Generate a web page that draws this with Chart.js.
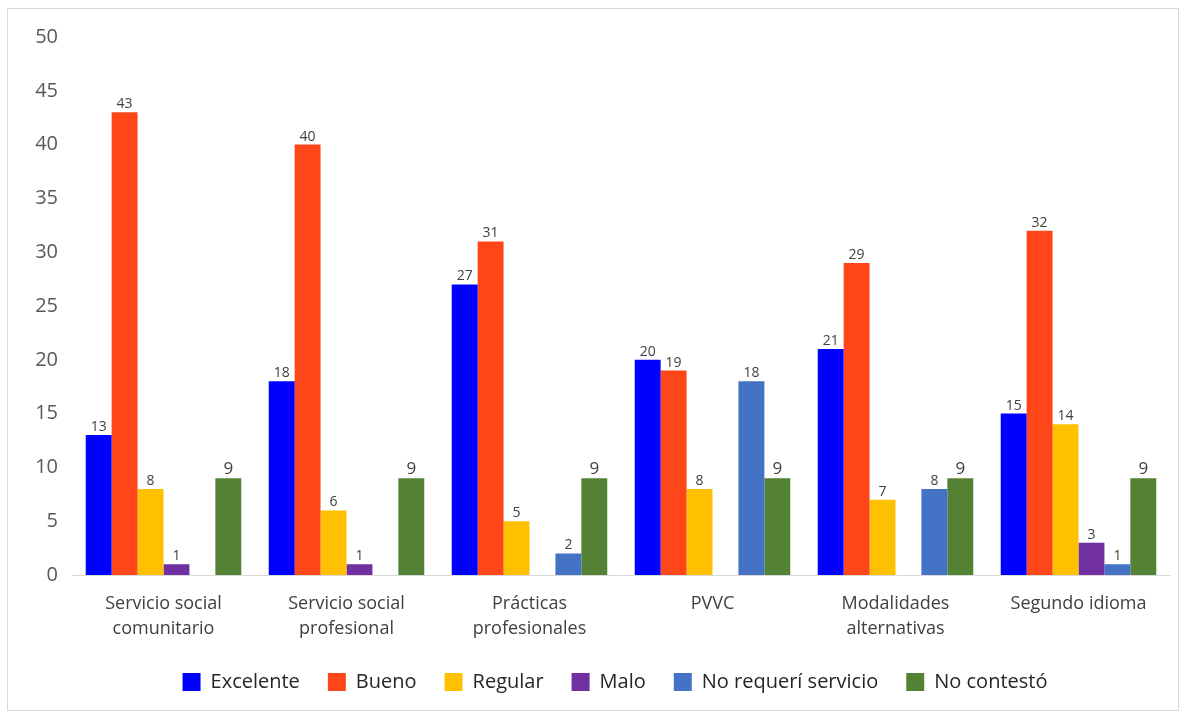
<!DOCTYPE html>
<html lang="es">
<head>
    <meta charset="UTF-8">
    <title>Evaluación de servicios</title>
    <script src="https://cdn.jsdelivr.net/npm/chart.js"></script>
    <style>
        body { margin: 0; background: #fff; }
        .frame {
            position: absolute; left: 7px; top: 8px;
            width: 1172px; height: 703px;
            border: 1px solid #d9d9d9; box-sizing: border-box;
        }
    </style>
</head>
<body>
    <div class="frame"><canvas id="chart"></canvas></div>

    <script>
        const categories = [
            ['Servicio social', 'comunitario'],
            ['Servicio social', 'profesional'],
            ['Prácticas', 'profesionales'],
            'PVVC',
            ['Modalidades', 'alternativas'],
            'Segundo idioma'
        ];

        const excelente = [13, 18, 27, 20, 21, 15];
        const bueno = [43, 40, 31, 19, 29, 32];
        const regular = [8, 6, 5, 8, 7, 14];
        const malo = [1, 1, null, null, null, 3];
        const noRequeri = [null, null, 2, 18, 8, 1];
        const noContesto = [9, 9, 9, 9, 9, 9];

        const yTicks = [0, 5, 10, 15, 20, 25, 30, 35, 40, 45, 50];

        // draws the value above each bar (no datalabels plugin offline)
        const valueLabels = {
            id: 'valueLabels',
            afterDatasetsDraw(chart) {
                const ctx = chart.ctx;
                ctx.save();
                ctx.textAlign = 'center';
                ctx.textBaseline = 'bottom';
                ctx.fillStyle = '#404040';
                chart.data.datasets.forEach((ds, i) => {
                    const meta = chart.getDatasetMeta(i);
                    const size = ds.label === 'No contestó' ? 17 : 14;
                    ctx.font = size + 'px "Open Sans", sans-serif';
                    meta.data.forEach((bar, j) => {
                        const v = ds.data[j];
                        if (v === null || v === undefined) return;
                        ctx.fillText(String(v), bar.x, bar.y - 1);
                    });
                });
                ctx.restore();
            }
        };

        // the original legend sits a bit right of centre
        const legendShift = {
            id: 'legendShift',
            afterLayout(chart) {
                chart.legend.left += 26;
                chart.legend.right += 26;
            }
        };

        const series = [
            { label: 'Excelente', data: excelente, color: '#0000FF' },
            { label: 'Bueno', data: bueno, color: '#FF4619' },
            { label: 'Regular', data: regular, color: '#FFC000' },
            { label: 'Malo', data: malo, color: '#7030A0' },
            { label: 'No requerí servicio', data: noRequeri, color: '#4472C4' },
            { label: 'No contestó', data: noContesto, color: '#548235' }
        ];

        new Chart(document.getElementById('chart'), {
            type: 'bar',
            data: {
                labels: categories,
                datasets: series.map(s => ({
                    label: s.label,
                    data: s.data,
                    backgroundColor: s.color,
                    borderWidth: 0,
                    categoryPercentage: 0.85,
                    barPercentage: 1.0
                }))
            },
            options: {
                responsive: true,
                maintainAspectRatio: false,
                animation: false,
                layout: { padding: { top: 28, right: 8, left: 0, bottom: 8 } },
                plugins: {
                    tooltip: { enabled: false },
                    legend: {
                        position: 'bottom',
                        labels: {
                            boxWidth: 18,
                            boxHeight: 18,
                            padding: 28,
                            color: '#262626',
                            font: { family: '"Open Sans", sans-serif', size: 20 }
                        }
                    }
                },
                scales: {
                    x: {
                        afterFit: s => { s.height = 69; },
                        grid: { display: false, drawTicks: false },
                        border: { color: '#d9d9d9' },
                        ticks: {
                            color: '#404040',
                            padding: 16,
                            font: { family: '"Open Sans", sans-serif', size: 18, lineHeight: 1.4 }
                        }
                    },
                    y: {
                        min: 0,
                        max: 50,
                        afterBuildTicks: s => { s.ticks = yTicks.map(v => ({ value: v })); },
                        afterFit: s => { s.width = 64; },
                        grid: { display: false, drawTicks: false },
                        border: { display: false },
                        ticks: {
                            color: '#595959',
                            padding: 14,
                            font: { family: '"Open Sans", sans-serif', size: 20 }
                        }
                    }
                }
            },
            plugins: [valueLabels, legendShift]
        });
    </script>
</body>
</html>
